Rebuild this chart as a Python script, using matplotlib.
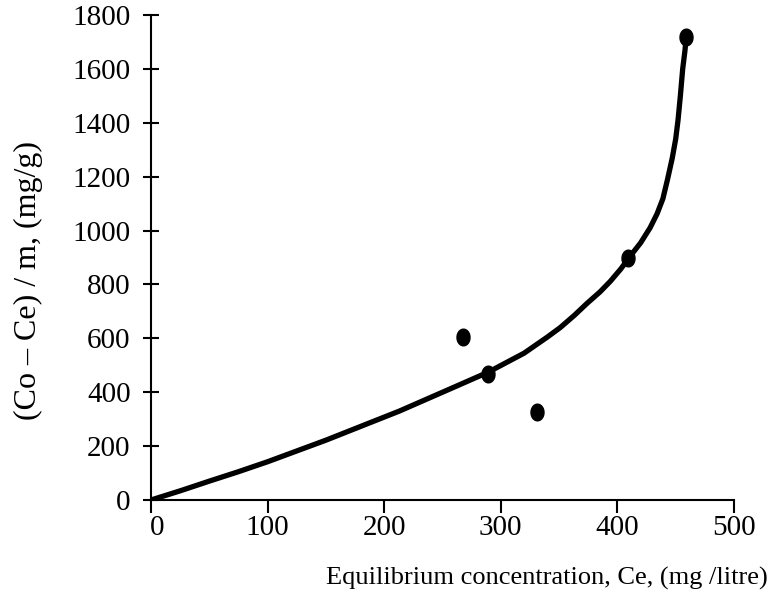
import numpy as np
import matplotlib
matplotlib.use("Agg")
import matplotlib.pyplot as plt
import matplotlib.transforms as mtransforms
from matplotlib.path import Path

# Pontos medidos
ce_pontos = [268, 289, 331, 409, 459]
q_pontos = [606, 467, 325, 897, 1720]

# Curva ajustada
ce_curva = [0, 25, 50, 75, 100, 150, 213, 250, 289, 320, 340, 351, 363, 374, 385,
            394, 403, 411, 420, 428, 434, 439, 443, 447, 450, 452, 454, 456, 458, 459]
q_curva = [0, 34, 70, 105, 142, 222, 330, 400, 474, 545, 605, 640, 685, 730, 772,
           812, 858, 905, 955, 1010, 1062, 1118, 1190, 1268, 1340, 1410, 1500, 1600, 1670, 1720]

x_ticks = [0, 100, 200, 300, 400, 500]
y_ticks = [0, 200, 400, 600, 800, 1000, 1200, 1400, 1600, 1800]

plt.rcParams['font.family'] = ['Liberation Serif', 'DejaVu Serif']

fig = plt.figure(figsize=(7.72, 5.96), dpi=100)
ax = fig.add_axes([151 / 772, 1 - 500 / 596, 583 / 772, 485 / 596])

# marcador elíptico (um pouco mais alto que largo)
t = np.linspace(0, 2 * np.pi, 40)
elipse = Path(np.column_stack([0.78 * np.cos(t), np.sin(t)]))

ax.plot(ce_curva, q_curva, color='black', lw=3.8, solid_capstyle='round',
        solid_joinstyle='round', zorder=2)
ax.plot(ce_pontos, q_pontos, linestyle='none', marker=elipse, markersize=12,
        color='black', zorder=3)

ax.set_xlim(0, 500)
ax.set_ylim(0, 1800)
ax.set_xticks(x_ticks)
ax.set_yticks(y_ticks)

for lado in ['top', 'right']:
    ax.spines[lado].set_visible(False)
for lado in ['left', 'bottom']:
    ax.spines[lado].set_linewidth(1.5)

ax.tick_params(axis='x', direction='out', length=9, width=1.5, labelsize=21, pad=2)
ax.tick_params(axis='y', direction='inout', length=11.5, width=1.5, labelsize=21, pad=9)

# o "0" do eixo x fica um pouco à direita
desloca = mtransforms.ScaledTranslation(6 / 100, 0, fig.dpi_scale_trans)
primeiro = ax.get_xticklabels()[0]
primeiro.set_transform(primeiro.get_transform() + desloca)

fig.text(768 / 772, 1 - 578 / 596, "Equilibrium concentration, Ce, (mg /litre)",
         fontsize=19, ha='right', va='center')
fig.text(28 / 772, 1 - 280 / 596, "(Co – Ce) / m, (mg/g)",
         fontsize=23, rotation=90, ha='center', va='center')

fig.savefig("out.png", dpi=100)
